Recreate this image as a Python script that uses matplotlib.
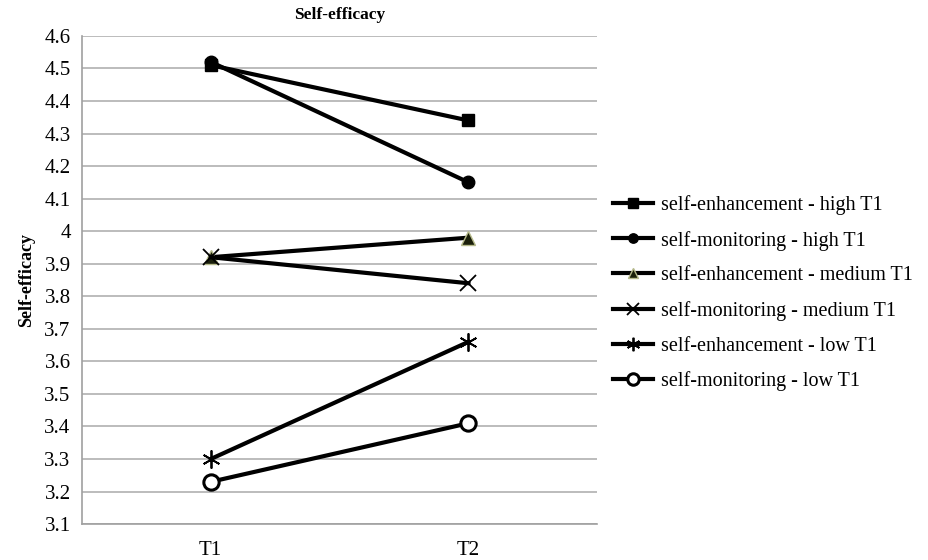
import matplotlib.pyplot as plt

# Data
times = ["T1", "T2"]
se_high = [4.51, 4.34]
sm_high = [4.52, 4.15]
se_medium = [3.92, 3.98]
sm_medium = [3.92, 3.84]
se_low = [3.30, 3.66]
sm_low = [3.23, 3.41]
yticks = [3.1, 3.2, 3.3, 3.4, 3.5, 3.6, 3.7, 3.8, 3.9, 4.0, 4.1, 4.2, 4.3, 4.4, 4.5, 4.6]
ytick_labels = ["3.1", "3.2", "3.3", "3.4", "3.5", "3.6", "3.7", "3.8", "3.9", "4",
                "4.1", "4.2", "4.3", "4.4", "4.5", "4.6"]

plt.rcParams['font.family'] = ['Liberation Serif', 'DejaVu Serif']

fig = plt.figure(figsize=(9.29, 5.6), dpi=100)
ax = fig.add_axes([0.088, 0.064, 0.555, 0.872])

x = list(range(len(times)))
lw = 3
ax.plot(x, se_high, color='black', lw=lw, marker='s', ms=9, label='self-enhancement - high T1')
ax.plot(x, sm_high, color='black', lw=lw, marker='o', ms=9, label='self-monitoring - high T1')
ax.plot(x, se_medium, color='black', lw=lw, marker='^', ms=10, markerfacecolor='#1a1f0a',
        markeredgecolor='#b5b98a', markeredgewidth=1, label='self-enhancement - medium T1')
ax.plot(x, sm_medium, color='black', lw=lw, marker='x', ms=11, markeredgewidth=1.3,
        label='self-monitoring - medium T1')
ax.plot(x, se_low, color='black', lw=lw, marker=(6, 2, 0), ms=13, markeredgewidth=1.3,
        label='self-enhancement - low T1')
ax.plot(x, sm_low, color='black', lw=lw, marker='o', ms=11, markerfacecolor='white',
        markeredgewidth=2.2, label='self-monitoring - low T1')

ax.set_xlim(-0.5, 1.5)
ax.set_ylim(3.1, 4.6)
ax.set_xticks(x)
ax.set_xticklabels(times, fontsize=15)
ax.set_yticks(yticks)
ax.set_yticklabels(ytick_labels, fontsize=15)
ax.tick_params(axis='y', length=0, pad=8)
ax.tick_params(axis='x', length=0, pad=12)
ax.grid(axis='y', color='#b0b0b0', lw=1.2)
ax.set_axisbelow(True)
for s in ['top', 'right']:
    ax.spines[s].set_visible(False)
for s in ['left', 'bottom']:
    ax.spines[s].set_color('#a0a0a0')
    ax.spines[s].set_linewidth(1.2)

ax.set_title("Self-efficacy", fontsize=12.5, fontweight='bold', pad=12)
ax.set_ylabel("Self-efficacy", fontsize=13, fontweight='bold', labelpad=7)

ax.legend(loc='center left', bbox_to_anchor=(0.995, 0.473), frameon=False, fontsize=14.5,
          handlelength=2.0, labelspacing=0.78, handletextpad=0.4, markerscale=0.75)

plt.savefig('out.png', dpi=100)
